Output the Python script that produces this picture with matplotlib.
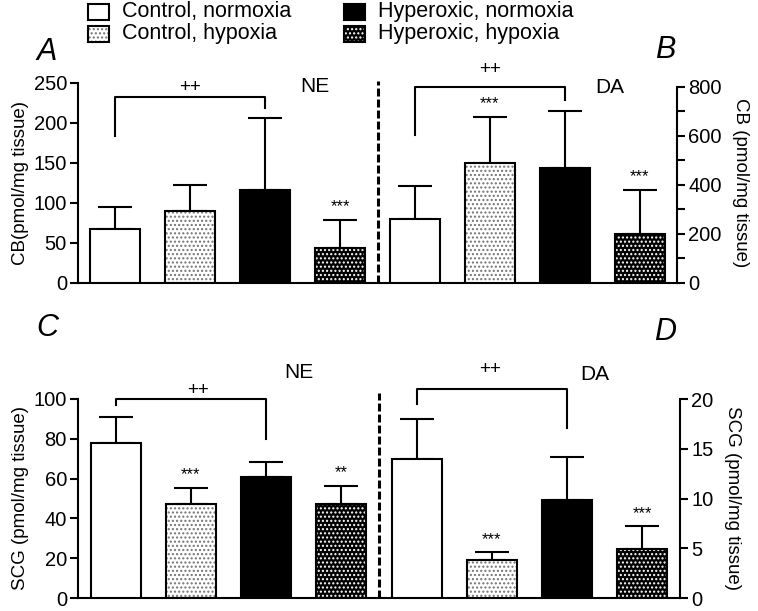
import matplotlib
matplotlib.use("Agg")
import matplotlib.pyplot as plt
from matplotlib.patches import Rectangle
import numpy as np

plt.rcParams['font.family'] = ['Liberation Sans', 'DejaVu Sans']
plt.rcParams['hatch.linewidth'] = 1.0

groups = ['Control, normoxia', 'Control, hypoxia', 'Hyperoxic, normoxia', 'Hyperoxic, hypoxia']

cb_ne = [68, 90, 116, 44]
cb_ne_err = [27, 32, 90, 35]
cb_da = [260, 490, 470, 200]
cb_da_err = [136, 188, 230, 180]
scg_ne = [78, 47, 61, 47]
scg_ne_err = [13, 8.5, 7.5, 9.5]
scg_da = [14, 3.8, 9.8, 4.9]
scg_da_err = [4, 0.8, 4.4, 2.3]

stars_cb_ne = ['', '', '', '***']
stars_cb_da = ['', '***', '', '***']
stars_scg_ne = ['', '***', '', '**']
stars_scg_da = ['', '***', '', '***']

LW = 1.5
W = 0.667
TICK_FS = 14.5
LABEL_FS = 13.5

STYLES = [
    dict(fc='white', hatch=None, hc=None),
    dict(fc='white', hatch='....', hc='0.45'),
    dict(fc='black', hatch=None, hc=None),
    dict(fc='black', hatch='....', hc='white'),
]

def draw_bars(ax, xs, vals, errs, stars):
    for x, v, e, s, st in zip(xs, vals, errs, stars, STYLES):
        if st['hatch']:
            ax.bar(x, v, W, color=st['fc'], edgecolor=st['hc'], hatch=st['hatch'],
                   linewidth=0, zorder=2)
            ax.bar(x, v, W, facecolor='none', edgecolor='black', linewidth=LW, zorder=3)
        else:
            ax.bar(x, v, W, color=st['fc'], edgecolor='black', linewidth=LW, zorder=3)
        ax.errorbar([x], [v], yerr=[[0], [e]], fmt='none', ecolor='black',
                    elinewidth=LW, capsize=12, capthick=LW, zorder=1)
        if s:
            ax.annotate(s, (x, v + e), xytext=(0, 4), textcoords='offset points',
                        ha='center', va='bottom', fontsize=12)

def bracket(ax, x1, y1, x2, y2, ytop):
    ax.plot([x1, x1, x2, x2], [y1, ytop, ytop, y2], color='black', lw=LW,
            clip_on=False, zorder=4)

def style_axes(ax, axr, left_label, right_label, lticks, rticks, rminor=None):
    for sp in ['top', 'right']:
        ax.spines[sp].set_visible(False)
    for sp in ['top', 'left', 'bottom']:
        axr.spines[sp].set_visible(False)
    ax.spines['left'].set_linewidth(LW)
    ax.spines['bottom'].set_linewidth(LW)
    axr.spines['right'].set_linewidth(LW)
    ax.set_xticks([])
    ax.set_yticks(lticks)
    axr.set_yticks(rticks)
    if rminor is not None:
        axr.set_yticks(rminor, minor=True)
        axr.tick_params(axis='y', which='minor', length=6, width=LW)
    ax.tick_params(axis='y', length=6, width=LW, labelsize=TICK_FS, pad=2)
    axr.tick_params(axis='y', length=6, width=LW, labelsize=TICK_FS, pad=2)
    ax.set_ylabel(left_label, fontsize=LABEL_FS, labelpad=3)
    axr.set_ylabel(right_label, fontsize=LABEL_FS, rotation=270, labelpad=20)

fig = plt.figure(figsize=(7.58, 6.11), dpi=100)

# Top panel (A/B)
axA = fig.add_axes([78/758, 328/611, 599/758, 200/611])
axB = axA.twinx()
axA.set_xlim(-0.5, 7.5)
axA.set_ylim(0, 250)
axB.set_ylim(0, 816)
axB.spines['right'].set_bounds(0, 800)
draw_bars(axA, [0, 1, 2, 3], cb_ne, cb_ne_err, stars_cb_ne)
draw_bars(axB, [4, 5, 6, 7], cb_da, cb_da_err, stars_cb_da)
style_axes(axA, axB, 'CB(pmol/mg tissue)', 'CB (pmol/mg tissue)',
           [0, 50, 100, 150, 200, 250], [0, 200, 400, 600, 800], [100, 300, 500, 700])
bracket(axA, 0, 184, 2, 219, 232)
axA.text(1, 245, '++', ha='center', va='center', fontsize=13.5)
axA.text(2.67, 245, 'NE', ha='center', va='center', fontsize=15)
bracket(axB, 4, 604, 6, 747, 800)
axB.text(5, 873, '++', ha='center', va='center', fontsize=13.5)
axB.text(6.6, 796, 'DA', ha='center', va='center', fontsize=15)
axA.plot([3.5, 3.5], [0, 252], color='black', lw=2.2, ls=(0, (2.6, 1.0)), clip_on=False, zorder=5)

# Bottom panel (C/D)
axC = fig.add_axes([78/758, 13/611, 602/758, 199/611])
axD = axC.twinx()
axC.set_xlim(-0.5, 7.5)
axC.set_ylim(0, 100)
axD.set_ylim(0, 20)
draw_bars(axC, [0, 1, 2, 3], scg_ne, scg_ne_err, stars_scg_ne)
draw_bars(axD, [4, 5, 6, 7], scg_da, scg_da_err, stars_scg_da)
style_axes(axC, axD, 'SCG (pmol/mg tissue)', 'SCG (pmol/mg tissue)',
           [0, 20, 40, 60, 80, 100], [0, 5, 10, 15, 20])
bracket(axC, 0, 97, 2, 80, 100)
axC.text(1.1, 104.5, '++', ha='center', va='center', fontsize=13.5)
axC.text(2.44, 113.5, 'NE', ha='center', va='center', fontsize=15)
bracket(axD, 4, 19.5, 6, 17.1, 21)
axD.text(4.97, 23, '++', ha='center', va='center', fontsize=13.5)
axD.text(6.37, 22.5, 'DA', ha='center', va='center', fontsize=15)
axC.plot([3.5, 3.5], [0, 103], color='black', lw=2.2, ls=(0, (2.6, 1.0)), clip_on=False, zorder=5)

# Panel letters
for lbl, (px, py) in {'A': (47, 52), 'B': (665, 50), 'C': (47, 328), 'D': (665, 332)}.items():
    fig.text(px/758, 1 - py/611, lbl, fontsize=22, style='italic', ha='center', va='center')

# Legend (drawn manually to keep patterned swatches)
def fx(px):
    return px / 758
def fy(py):
    return 1 - py / 611

leg_pos = [(88, 4), (88, 26), (344, 4), (344, 26)]
sw_w, sw_h = 21, 16
for (px, py), st, name in zip(leg_pos, STYLES, groups):
    rect_kw = dict(transform=fig.transFigure, clip_on=False)
    if st['hatch']:
        fig.add_artist(Rectangle((fx(px), fy(py + sw_h)), sw_w/758, sw_h/611,
                                 facecolor=st['fc'], edgecolor=st['hc'], hatch=st['hatch'],
                                 linewidth=0, **rect_kw))
        fig.add_artist(Rectangle((fx(px), fy(py + sw_h)), sw_w/758, sw_h/611,
                                 facecolor='none', edgecolor='black', linewidth=LW, **rect_kw))
    else:
        fig.add_artist(Rectangle((fx(px), fy(py + sw_h)), sw_w/758, sw_h/611,
                                 facecolor=st['fc'], edgecolor='black', linewidth=LW, **rect_kw))
    fig.text(fx(px + 34), fy(py + sw_h/2), name, fontsize=15.5, ha='left', va='center')

fig.savefig('out.png', dpi=100)
